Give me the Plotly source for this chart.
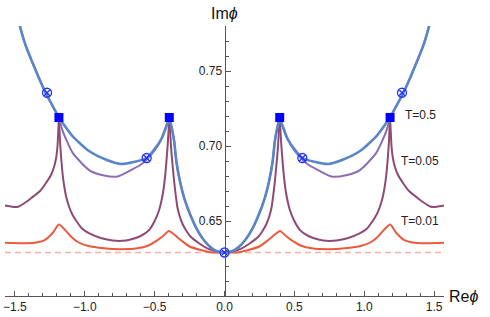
import plotly.graph_objects as go
import numpy as np

# ---- data (right half, x >= 0; curves are mirror-symmetric in Re phi) ----
blue_x = [0.0, 0.05, 0.10, 0.15, 0.194, 0.24, 0.29, 0.32, 0.345, 0.36, 0.375, 0.395,
          0.45, 0.50, 0.557, 0.65, 0.74, 0.85, 0.967, 1.086, 1.185,
          1.28, 1.335, 1.43, 1.52]
blue_y = [0.629, 0.6297, 0.6325, 0.6375, 0.6439, 0.653, 0.6658, 0.677, 0.690, 0.703, 0.711, 0.719,
          0.705, 0.698, 0.692, 0.6893, 0.688, 0.691, 0.6965, 0.7064, 0.719,
          0.7355, 0.7469, 0.7689, 0.80]

violet_x = [0.0, 0.05, 0.10, 0.15, 0.194, 0.24, 0.29, 0.32, 0.345, 0.36, 0.375, 0.395,
            0.45, 0.50, 0.557, 0.60, 0.66, 0.766, 0.87, 0.967, 1.086, 1.157, 1.185,
            1.28, 1.335, 1.43, 1.52]
violet_y = [0.629, 0.6297, 0.6325, 0.6375, 0.6439, 0.653, 0.6658, 0.677, 0.690, 0.703, 0.711, 0.719,
            0.705, 0.697, 0.691, 0.6875, 0.6844, 0.6796, 0.6805, 0.6838, 0.6954, 0.7097, 0.719,
            0.7355, 0.7469, 0.7689, 0.80]

maroon_x = [0.0, 0.06, 0.123, 0.18, 0.242, 0.27, 0.30, 0.32, 0.337, 0.35, 0.36, 0.372, 0.379, 0.385, 0.39, 0.395,
            0.40, 0.405, 0.412, 0.422, 0.435, 0.45, 0.469, 0.50, 0.54, 0.60, 0.68, 0.73, 0.80, 0.88, 0.967,
            1.02, 1.06, 1.09, 1.11, 1.13, 1.145, 1.157, 1.167, 1.175, 1.18, 1.185,
            1.19, 1.195, 1.205, 1.22, 1.24, 1.28, 1.32, 1.38, 1.43, 1.477, 1.52, 1.571]
maroon_y = [0.629, 0.6298, 0.6318, 0.635, 0.6395, 0.643, 0.648, 0.653, 0.6592, 0.668, 0.676, 0.6877, 0.695, 0.703, 0.711, 0.719,
            0.711, 0.703, 0.694, 0.6828, 0.672, 0.664, 0.657, 0.650, 0.6439, 0.640, 0.6375, 0.6368, 0.637, 0.6385, 0.6417,
            0.645, 0.650, 0.6545, 0.659, 0.665, 0.672, 0.680, 0.690, 0.700, 0.709, 0.719,
            0.709, 0.700, 0.692, 0.686, 0.681, 0.675, 0.670, 0.6655, 0.662, 0.6595, 0.6595, 0.6603]

red_x = [0.0, 0.10, 0.171, 0.25, 0.313, 0.36, 0.398, 0.44, 0.479, 0.55, 0.624, 0.75,
         0.86, 0.98, 1.05, 1.097, 1.14, 1.186, 1.23, 1.287, 1.36, 1.45, 1.571]
red_y = [0.629, 0.6292, 0.6307, 0.633, 0.6373, 0.641, 0.6434, 0.640, 0.6373, 0.6335, 0.6318, 0.6312,
         0.6318, 0.6335, 0.636, 0.6395, 0.644, 0.6476, 0.642, 0.6373, 0.6355, 0.6352, 0.6355]

dash_level = 0.629
cusps = [-1.185, -0.395, 0.395, 1.185]

square_x = [-1.185, -0.395, 0.395, 1.185]
square_y = [0.719, 0.719, 0.719, 0.719]

cross_x = [-1.27, -0.557, 0.0, 0.557, 1.27]
cross_y = [0.7355, 0.692, 0.629, 0.692, 0.7355]

labels = ["T=0.5", "T=0.05", "T=0.01"]
label_x = [1.40, 1.40, 1.40]
label_y = [0.7204, 0.6901, 0.650]

x_ticks = [-1.5, -1.0, -0.5, 0.0, 0.5, 1.0, 1.5]
y_ticks = [0.65, 0.70, 0.75]
y_ticktext = ["0.65", "0.70", "0.75"]


def mirror(xs, ys):
    xl = [-v for v in xs[::-1] if v != 0] + list(xs)
    yl = [ys[i] for i in range(len(ys) - 1, -1, -1) if xs[i] != 0] + list(ys)
    return xl, yl


def split_at(xl, yl, cuts):
    ox, oy = [], []
    n = len(xl)
    for i in range(n):
        ox.append(xl[i]); oy.append(yl[i])
        if 0 < i < n - 1 and any(abs(xl[i] - c) < 1e-9 for c in cuts):
            ox += [None, xl[i]]; oy += [None, yl[i]]
    return ox, oy


fig = go.Figure()
XMIN, XMAX = -np.pi / 2, np.pi / 2

fig.add_trace(go.Scatter(x=[XMIN, XMAX], y=[dash_level, dash_level], mode="lines",
                         line=dict(color="#F6AFA6", width=1.5, dash="6px,4px"),
                         hoverinfo="skip"))

for xs, ys, col, w, cut in [(red_x, red_y, "#EC5A3E", 2, []),
                            (maroon_x, maroon_y, "#8E4A72", 2, cusps),
                            (violet_x, violet_y, "#8A6DB2", 2, cusps),
                            (blue_x, blue_y, "#5A86C6", 2.6, cusps)]:
    xl, yl = mirror(xs, ys)
    xl, yl = split_at(xl, yl, cut)
    fig.add_trace(go.Scatter(x=xl, y=yl, mode="lines", connectgaps=False,
                             line=dict(color=col, width=w, shape="spline", smoothing=0.6)))

fig.add_trace(go.Scatter(x=square_x, y=square_y, mode="markers",
                         marker=dict(symbol="square", size=9, color="#0000FF")))
fig.add_trace(go.Scatter(x=cross_x, y=cross_y, mode="markers",
                         marker=dict(symbol="circle-x-open", size=9, color="#2233FF",
                                     line=dict(width=1.3))))

for t, lx, ly in zip(labels, label_x, label_y):
    fig.add_annotation(x=lx, y=ly, text=t, showarrow=False,
                       font=dict(size=12, color="#222", family="Liberation Sans"))

fig.add_annotation(x=0, y=1.0, xref="x", yref="paper", text="Im<i>ϕ</i>", showarrow=False,
                   xanchor="center", yanchor="bottom", yshift=2,
                   font=dict(size=16, color="#111", family="Liberation Sans"))
fig.add_annotation(x=1.0, y=0.0, xref="paper", yref="paper", text="Re<i>ϕ</i>", showarrow=False,
                   xanchor="left", yanchor="middle", xshift=3,
                   font=dict(size=16, color="#111", family="Liberation Sans"))

axis_col = "#555"
fig.update_layout(
    width=490, height=317,
    margin=dict(l=3, r=46, t=26, b=17),
    showlegend=False,
    plot_bgcolor="white", paper_bgcolor="white",
    xaxis=dict(range=[XMIN, XMAX], tickvals=x_ticks, tickformat=".1f",
               showgrid=False, zeroline=False, showline=True, linecolor=axis_col, linewidth=1,
               ticks="inside", ticklen=5, tickcolor=axis_col,
               minor=dict(dtick=0.1, tick0=0, ticks="inside", ticklen=3, tickcolor=axis_col),
               tickfont=dict(size=12, color="#222", family="Liberation Sans")),
    yaxis=dict(range=[0.60, 0.78], tickvals=y_ticks, ticktext=y_ticktext,
               anchor="free", position=0.5,
               showgrid=False, zeroline=False, showline=True, linecolor=axis_col, linewidth=1,
               ticks="inside", ticklen=5, tickcolor=axis_col,
               minor=dict(dtick=0.01, tick0=0.6, ticks="inside", ticklen=3, tickcolor=axis_col),
               tickfont=dict(size=12, color="#222", family="Liberation Sans")),
)

fig.write_html("out.html",
               config={"displayModeBar": False, "staticPlot": True},
               post_script="document.body.style.margin='0';document.body.style.padding='0';"
                           "document.body.style.overflow='hidden';")
